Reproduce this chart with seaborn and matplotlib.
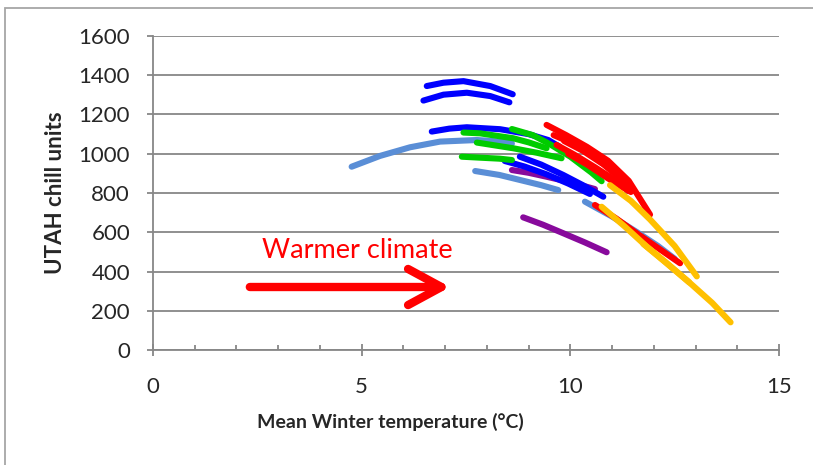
import matplotlib
matplotlib.use("Agg")
import matplotlib.pyplot as plt
from matplotlib.patches import Rectangle
from matplotlib.ticker import MultipleLocator
import seaborn as sns
import pandas as pd

# ---- data (temperature °C, UTAH chill units) ----
lightblue_1 = ([4.76, 5.44, 6.16, 6.88, 7.76, 8.32, 8.6], [934, 989, 1033, 1062, 1070, 1062, 1052])
lightblue_2 = ([7.72, 8.3, 8.8, 9.3, 9.71], [912, 892, 866, 840, 815])
lightblue_3 = ([10.35, 11.0, 11.6, 12.1, 12.5], [756, 680, 600, 530, 465])
blue_1 = ([6.56, 6.96, 7.44, 8.08, 8.62], [1345, 1362, 1370, 1345, 1303])
blue_2 = ([6.48, 6.96, 7.52, 8.08, 8.54], [1271, 1301, 1311, 1294, 1262])
blue_3 = ([6.68, 7.1, 7.52, 8.32, 9.0, 9.47, 9.75], [1113, 1128, 1135, 1125, 1100, 1070, 1035])
blue_4 = ([8.79, 9.3, 9.83, 10.3, 10.79], [985, 945, 892, 840, 781])
blue_5 = ([8.43, 8.9, 9.43, 9.95, 10.47], [963, 935, 895, 848, 795])
green_1 = ([7.44, 7.84, 8.63, 9.0, 9.43], [1108, 1104, 1079, 1058, 1028])
green_2 = ([8.6, 9.1, 9.5, 10.0, 10.5, 10.75], [1126, 1095, 1050, 985, 905, 860])
green_3 = ([7.76, 8.63, 9.2, 9.79], [1057, 1028, 1005, 977])
green_4 = ([7.4, 7.84, 8.3, 8.6], [985, 980, 975, 968])
purple_1 = ([8.6, 9.0, 9.43, 10.0, 10.59], [917, 903, 883, 855, 820])
purple_2 = ([8.87, 9.35, 9.83, 10.35, 10.87], [676, 638, 595, 548, 498])
red_1 = ([9.43, 9.9, 10.4, 10.9, 11.4, 11.91], [1147, 1095, 1035, 965, 862, 690])
red_2 = ([9.67, 10.1, 10.6, 11.0, 11.45], [1045, 995, 930, 875, 805])
red_3 = ([9.85, 10.3, 10.8, 11.3], [1065, 1015, 945, 855])
red_4 = ([10.59, 11.1, 11.59, 12.1, 12.63], [739, 670, 595, 520, 442])
red_5 = ([9.95, 10.4, 10.9, 11.4], [1000, 945, 875, 810])
red_6 = ([9.6, 10.0, 10.5, 11.0, 11.45], [1095, 1058, 995, 915, 835])
yellow_1 = ([10.95, 11.45, 11.91, 12.5, 13.03], [840, 760, 665, 530, 375])
yellow_2 = ([10.75, 11.3, 11.83, 12.4, 12.9, 13.4, 13.84], [730, 630, 527, 425, 335, 240, 141])
yellow_3 = ([11.75, 12.3, 12.85], [540, 445, 345])

x_ticks = [0, 5, 10, 15]
y_ticks = [0, 200, 400, 600, 800, 1000, 1200, 1400, 1600]
x_label = "Mean Winter temperature (°C)"
y_label = "UTAH chill units"
note_text = "Warmer climate"

curves = {
    "lightblue": [lightblue_1, lightblue_2, lightblue_3],
    "purple": [purple_1, purple_2],
    "blue": [blue_1, blue_2, blue_3, blue_4, blue_5],
    "green": [green_1, green_2, green_3, green_4],
    "red": [red_1, red_6, red_2, red_3, red_5, red_4],
    "yellow": [yellow_1, yellow_2, yellow_3],
}
palette = {"lightblue": "#5A8ED6", "purple": "#880A9C", "blue": "#0000FF",
           "green": "#00CC00", "red": "#FF0000", "yellow": "#FFC000"}

rows = []
for grp, lst in curves.items():
    for i, (xs, ys) in enumerate(lst):
        for order, (xv, yv) in enumerate(zip(xs, ys)):
            rows.append({"temp": xv, "chill": yv, "group": grp,
                         "curve": f"{grp}_{i}", "order": order})
df = pd.DataFrame(rows)

sns.set_style("white")
plt.rcParams["font.family"] = ["Lato", "DejaVu Sans"]

fig = plt.figure(figsize=(8.13, 4.65), dpi=100)
ax = fig.add_axes([153 / 813, 1 - 350 / 465, 626 / 813, 314 / 465])

grey = "#878787"
ax.grid(axis="y", color=grey, lw=1.3, zorder=0)
ax.set_axisbelow(True)

sns.lineplot(data=df, x="temp", y="chill", hue="group", units="curve",
             estimator=None, sort=False, palette=palette,
             hue_order=list(curves.keys()), legend=False, lw=4.4, ax=ax)
for ln in ax.get_lines():
    ln.set_solid_capstyle("round")
    ln.set_solid_joinstyle("round")

ax.set_xlim(0, 15)
ax.set_ylim(0, 1600)
ax.set_xticks(x_ticks)
ax.set_yticks(y_ticks)
ax.xaxis.set_minor_locator(MultipleLocator(1))

for s in ["top", "right"]:
    ax.spines[s].set_visible(False)
for s in ["left", "bottom"]:
    ax.spines[s].set_color(grey)
    ax.spines[s].set_linewidth(1.3)

ax.tick_params(axis="y", which="major", direction="out", length=4.5, width=1.3,
               color=grey, labelsize=16, pad=12, left=True)
ax.tick_params(axis="x", which="major", direction="inout", length=9, width=1.3,
               color=grey, labelsize=16, pad=15, bottom=True)
ax.tick_params(axis="x", which="minor", direction="in", length=3.8, width=1.3,
               color=grey, bottom=True)

ax.set_xlabel(x_label, fontsize=14, fontweight="bold")
ax.set_ylabel(y_label, fontsize=16, fontweight="bold")
ax.xaxis.set_label_coords((390 - 153) / 626, (350 - 413) / 314)
ax.yaxis.set_label_coords((66 - 153) / 626, 0.5)

ax.text(4.9, 505, note_text, color="#FF0000", fontsize=19.5,
        ha="center", va="center")
ax.annotate("", xy=(7.12, 321), xytext=(2.32, 321),
            arrowprops=dict(arrowstyle="->,head_length=1.2,head_width=0.65",
                            color="#FF0000", lw=6, mutation_scale=20,
                            capstyle="round", joinstyle="round",
                            shrinkA=0, shrinkB=0))

fig.add_artist(Rectangle((5 / 813, -0.2), 1.5, 1.2 - 8 / 465,
                         transform=fig.transFigure, fill=False,
                         edgecolor="#A6A6A6", lw=1.3))

fig.savefig("out.png", dpi=100)
